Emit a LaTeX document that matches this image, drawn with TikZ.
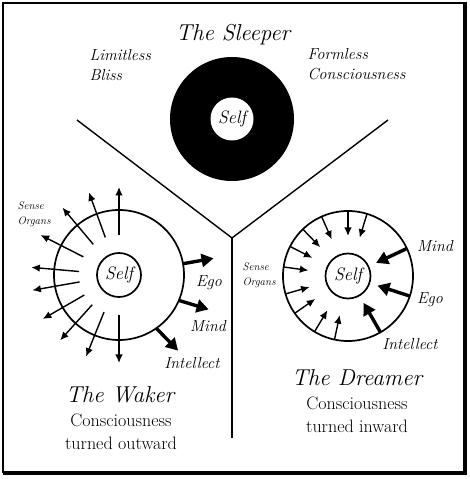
\documentclass[tikz,border=0pt]{standalone}
\usetikzlibrary{arrows.meta}
\begin{document}
\begin{tikzpicture}[x=1pt,y=1pt,
  divider/.style={line width=1.4pt},
  ring/.style={line width=1.7pt},
  thinarrow/.style={line width=1.4pt,-{Latex[length=8.5pt,width=7.5pt]}},
  thickarrow/.style={line width=3.4pt,-{Triangle[length=12pt,width=13pt]}},
  titletext/.style={font=\fontsize{23}{25}\selectfont\itshape},
  subtext/.style={font=\fontsize{18}{23}\selectfont, align=center},
  labtext/.style={font=\fontsize{16}{18}\selectfont\itshape},
  sidetext/.style={font=\fontsize{16}{20}\selectfont\itshape, align=left, anchor=west},
  smalltext/.style={font=\fontsize{11}{15}\selectfont\itshape, align=left, anchor=west},
  selftext/.style={font=\fontsize{18}{18}\selectfont\itshape}
]
\useasboundingbox (0,0) rectangle (470,479);
\fill[white] (0,0) rectangle (470,479);
% frame
\draw[line width=1.8pt] (3,7) rectangle (464,476);
\draw[line width=3pt] (465,477) -- (465,5.5) -- (3,5.5);

% dividers
\coordinate (junction) at (232,241);
\coordinate (lefttop) at (77,359);
\coordinate (righttop) at (388,359);
\coordinate (bottomend) at (232,41);
\draw[divider] (lefttop) -- (junction) -- (righttop);
\draw[divider] (junction) -- (bottomend);

% ---------------- Sleeper
\coordinate (sc) at (232,360);
\fill (sc) circle (62);
\node[circle, fill=white, minimum size=43pt, inner sep=0pt, selftext] (sself) at (sc) {Self};
\node[titletext] (sleeper) at (233,444) {The Sleeper};
\node[sidetext] (bliss) at (86,414) {Limitless\\Bliss};
\node[sidetext] (formless) at (304,415) {Formless\\Consciousness};

% ---------------- Waker
\coordinate (wc) at (119,204);
\draw[ring] (wc) circle (65);
\node[circle, draw, ring, minimum size=44pt, inner sep=0pt, selftext] (wself) at (wc) {Self};
\foreach \a in {90,110,130,153,175,190,210,228,248,270}
  \draw[thinarrow, shift={(wc)}] (\a:40) -- (\a:88);
\foreach \a/\b in {10/10,-23/-21,-55/-52}
  \draw[thickarrow, shift={(wc)}] (\a:65) -- (\b:96);
\node[labtext] (wego) at (209,196) {Ego};
\node[labtext] (wmind) at (208,153) {Mind};
\node[labtext] (wintellect) at (192,116) {Intellect};
\node[smalltext] (wsense) at (14,265) {Sense\\Organs};
\node[titletext] (waker) at (120,84) {The Waker};
\node[subtext] (wsub) at (121,47) {Consciousness\\turned outward};

% ---------------- Dreamer
\coordinate (dc) at (348,203);
\draw[ring] (dc) circle (65);
\node[circle, draw, ring, minimum size=45pt, inner sep=0pt, selftext] (dself) at (dc) {Self};
\foreach \a in {73,90,114,134,153,172,196,215,239,258}
  \draw[thinarrow, shift={(dc)}] (\a:65) -- (\a:40);
\foreach \a in {25,-18,-60}
  \draw[thickarrow, shift={(dc)}] (\a:65) -- (\a:31);
\node[labtext] (dmind) at (435,233) {Mind};
\node[labtext] (dego) at (430,179) {Ego};
\node[labtext] (dintellect) at (410,135) {Intellect};
\node[smalltext] (dsense) at (239,204) {Sense\\Organs};
\node[titletext] (dreamer) at (357,101) {The Dreamer};
\node[subtext] (dsub) at (357,64) {Consciousness\\turned inward};
\end{tikzpicture}
\end{document}
